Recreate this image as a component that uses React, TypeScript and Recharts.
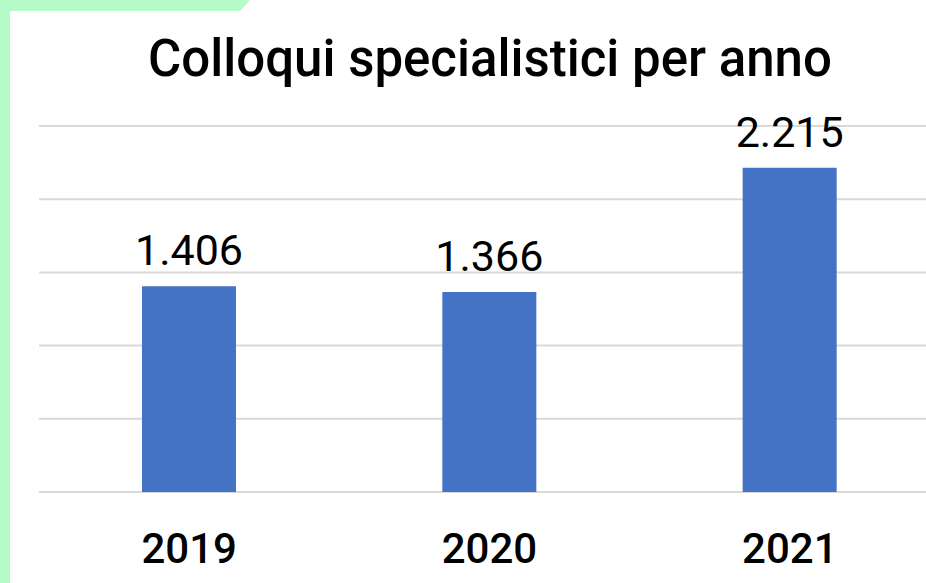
import React from 'react';
import { BarChart, Bar, XAxis, YAxis, CartesianGrid, LabelList } from 'recharts';

const years = ['2019', '2020', '2021'];
const colloqui = [1406, 1366, 2215];
const yTicks = [0, 500, 1000, 1500, 2000, 2500];

const data = years.map((y, i) => ({ anno: y, valore: colloqui[i] }));

// separatore delle migliaia all'italiana (toLocaleString non lo mette sotto le 10.000)
const fmt = (v: any) => String(v).replace(/\B(?=(\d{3})+(?!\d))/g, '.');

const App: React.FC = () => {
  return (
    <div style={{ position: 'fixed', left: 0, top: 0, width: 926, height: 583, overflow: 'hidden', background: '#fff', fontFamily: 'Roboto, sans-serif' }}>
      {/* bordo verde in alto a sinistra */}
      <div style={{ position: 'absolute', left: 0, top: 0, width: 10, height: 583, background: '#b5fbc8' }} />
      <div style={{ position: 'absolute', left: 0, top: 0, width: 250, height: 11, background: '#b5fbc8', clipPath: 'polygon(0 0, 100% 0, 96% 100%, 0 100%)' }} />

      <div style={{ position: 'absolute', left: 0, top: 0, width: 1000, height: 583 }}>
        <BarChart width={1000} height={583} data={data} margin={{ top: 126, right: 20, left: 39, bottom: 31 }} style={{ overflow: 'visible' }}>
          <CartesianGrid vertical={false} stroke="#d9d9d9" strokeWidth={2} />
          <YAxis hide domain={[0, 2500]} ticks={yTicks} />
          <XAxis
            dataKey="anno"
            axisLine={false}
            tickLine={false}
            tickSize={0}
            tickMargin={41}
            height={60}
            padding={{ left: 0, right: 40 }}
            tick={{ fill: '#000', fontSize: 42, fontWeight: 500 }}
          />
          <Bar dataKey="valore" fill="#4472c4" barSize={94} isAnimationActive={false}>
            <LabelList dataKey="valore" position="top" offset={21} formatter={fmt} fill="#000" fontSize={43} />
          </Bar>
        </BarChart>
      </div>

      <div style={{ position: 'absolute', left: 0, top: 24, width: 980, textAlign: 'center', fontSize: 51, fontWeight: 500, color: '#000', lineHeight: '70px' }}>
        Colloqui specialistici per anno
      </div>
    </div>
  );
};

export default App;
